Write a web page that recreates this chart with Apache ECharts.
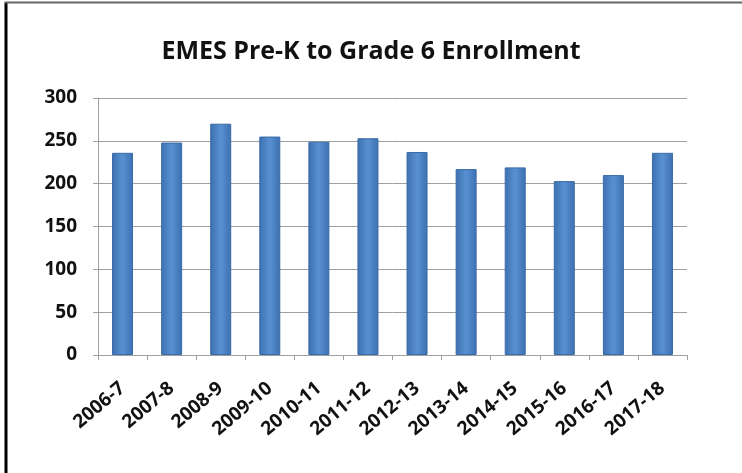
<!DOCTYPE html>
<html>
<head>
<meta charset="utf-8">
<script src="https://cdn.jsdelivr.net/npm/echarts@6/dist/echarts.min.js"></script>
<style>
  html, body { margin: 0; padding: 0; background: #fff; }
  #chart { width: 742px; height: 473px; }
</style>
</head>
<body>
<div id="chart"></div>
<script>
var years = ["2006-7", "2007-8", "2008-9", "2009-10", "2010-11", "2011-12",
  "2012-13", "2013-14", "2014-15", "2015-16", "2016-17", "2017-18"];
var enrollment = [236, 248, 270, 255, 249, 253, 237, 217, 219, 203, 210, 236];
var yTicks = [0, 50, 100, 150, 200, 250, 300];

var myChart = echarts.init(document.getElementById("chart"));

// bars are shaded a little lighter in the middle, like the old office style
var barColor = new echarts.graphic.LinearGradient(0, 0, 1, 0, [
  { offset: 0, color: "#3d70b0" },
  { offset: 0.5, color: "#5891d2" },
  { offset: 1, color: "#3d70b0" }
]);

myChart.setOption({
  animation: false,
  title: {
    text: "EMES Pre-K to Grade 6 Enrollment",
    left: "center",
    top: 34,
    textStyle: {
      fontFamily: "Open Sans",
      fontWeight: "bold",
      fontSize: 25,
      color: "#111"
    }
  },
  grid: {
    left: 98,
    right: 55,
    top: 98,
    bottom: 118,
    containLabel: false
  },
  xAxis: {
    type: "category",
    data: years,
    axisLine: { lineStyle: { color: "#a0a0a0", width: 1 } },
    axisTick: { show: true, length: 5, lineStyle: { color: "#a0a0a0" } },
    axisLabel: {
      rotate: 40,
      interval: 0,
      margin: 31,
      fontFamily: "Open Sans",
      fontWeight: "bold",
      fontSize: 19,
      color: "#111"
    }
  },
  yAxis: {
    type: "value",
    min: yTicks[0],
    max: yTicks[yTicks.length - 1],
    interval: 50,
    axisLine: { show: true, lineStyle: { color: "#a0a0a0" } },
    axisTick: { show: true, length: 5, lineStyle: { color: "#a0a0a0" } },
    splitLine: { lineStyle: { color: "#a0a0a0", width: 1 } },
    axisLabel: {
      margin: 21,
      fontFamily: "Open Sans",
      fontWeight: "bold",
      fontSize: 19,
      color: "#111"
    }
  },
  series: [
    {
      type: "bar",
      data: enrollment,
      barWidth: 21,
      itemStyle: {
        color: barColor,
        borderColor: "#3a6aa8",
        borderWidth: 1
      }
    }
  ],
  graphic: [
    {
      type: "line",
      shape: { x1: 6, y1: 2, x2: 6, y2: 473 },
      style: { stroke: "#000", lineWidth: 3 }
    },
    {
      type: "line",
      shape: { x1: 5, y1: 2.5, x2: 742, y2: 2.5 },
      style: { stroke: "#666", lineWidth: 2 }
    }
  ]
});
</script>
</body>
</html>
